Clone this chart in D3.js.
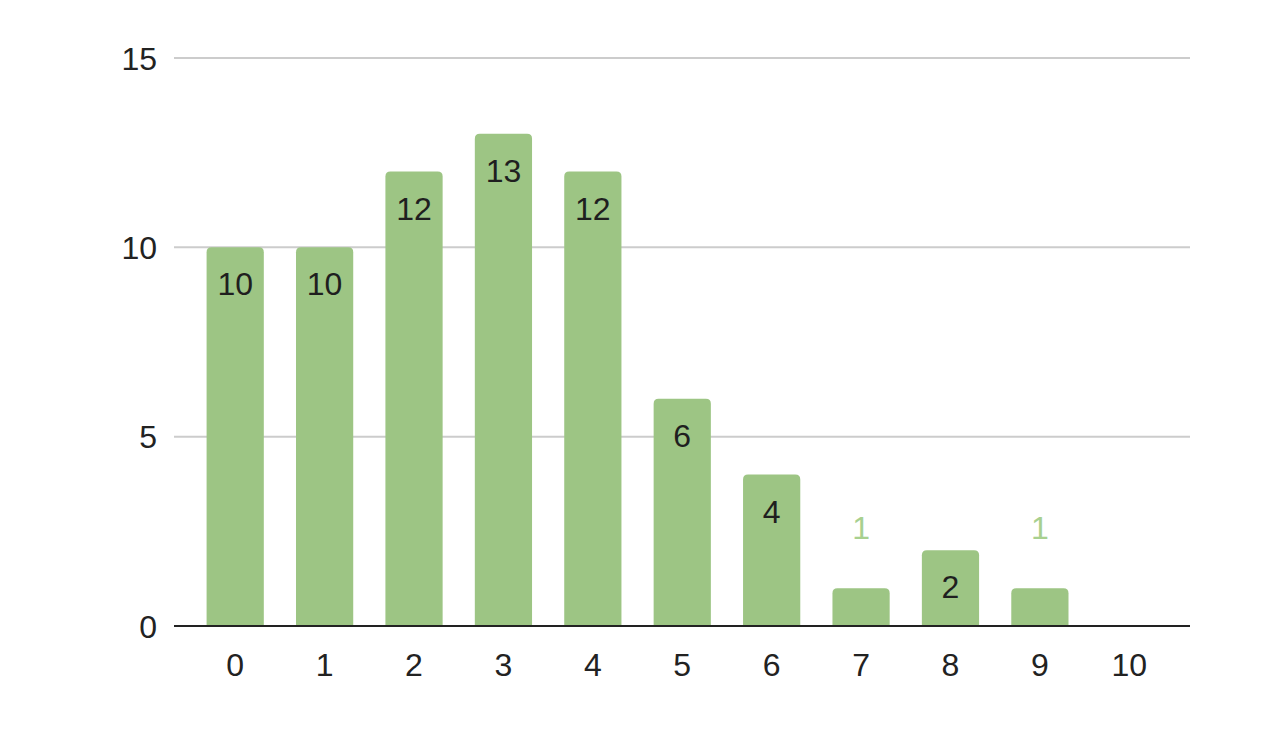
<!DOCTYPE html>
<html><head><meta charset="utf-8">
<script src="https://cdn.jsdelivr.net/npm/d3@7"></script>
<style>
body{margin:0;background:#fff;}
svg{display:block;font-family:"Liberation Sans",Arial,sans-serif;}
</style></head>
<body><svg id="c" width="1266" height="735"></svg>
<script>
const categories = ["0","1","2","3","4","5","6","7","8","9","10"];
const values = [10,10,12,13,12,6,4,1,2,1,0];
const yTicks = [0,5,10,15];

(function(){
const svg = d3.select("#c");
const mLeft = 174, mRight = 1190, mTop = 58, mBottom = 626;
const fs = 32;
const x = d3.scaleBand().domain(categories).range([190.5, 1174]).paddingInner(0.36).paddingOuter(0.18);
const y = d3.scaleLinear().domain([0,15]).range([mBottom, mTop]);

// grid
svg.append("g").selectAll("line").data(yTicks.filter(d=>d>0)).join("line")
  .attr("x1", mLeft).attr("x2", mRight)
  .attr("y1", d=>y(d)).attr("y2", d=>y(d))
  .attr("stroke", "#cccccc").attr("stroke-width", 2);

// y labels
svg.append("g").selectAll("text").data(yTicks).join("text")
  .attr("x", 157).attr("y", d=>y(d)).attr("dy", "0.36em")
  .attr("text-anchor", "end").attr("font-size", fs).attr("fill", "#222")
  .text(d=>d);

const data = values.map((v,i)=>({v,c:categories[i]})).filter(d=>d.v>0);

// bars
const r = 5;
svg.append("g").selectAll("path").data(data).join("path")
  .attr("fill", "#9dc584")
  .attr("d", d=>{
    const x0 = x(d.c), w = x.bandwidth(), y0 = y(d.v), y1 = y(0);
    return `M${x0},${y1}V${y0+r}Q${x0},${y0} ${x0+r},${y0}H${x0+w-r}Q${x0+w},${y0} ${x0+w},${y0+r}V${y1}Z`;
  });

// value labels
svg.append("g").selectAll("text").data(data).join("text")
  .attr("x", d=>x(d.c)+x.bandwidth()/2)
  .attr("y", d=> d.v>=2 ? y(d.v)+48 : y(d.v)-49)
  .attr("text-anchor", "middle").attr("font-size", fs)
  .attr("fill", d=> d.v>=2 ? "#1f1f1f" : "#a8d08f")
  .text(d=>d.v);

// baseline
svg.append("line").attr("x1", mLeft).attr("x2", mRight).attr("y1", y(0)).attr("y2", y(0))
  .attr("stroke", "#222").attr("stroke-width", 2);

// x labels
svg.append("g").selectAll("text").data(categories).join("text")
  .attr("x", d=>x(d)+x.bandwidth()/2).attr("y", 676)
  .attr("text-anchor", "middle").attr("font-size", fs).attr("fill", "#222")
  .text(d=>d);
})();
</script></body></html>
